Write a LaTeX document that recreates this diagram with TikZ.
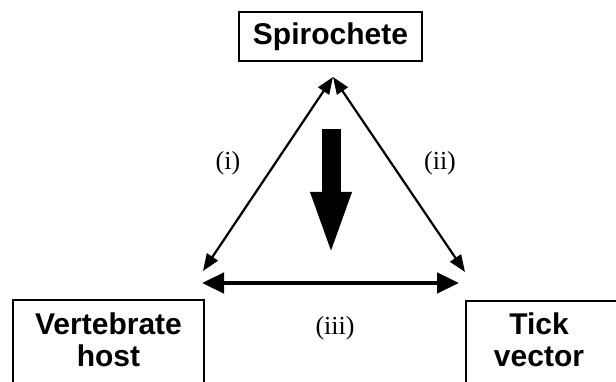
\documentclass[tikz,border=0pt]{standalone}
\usepackage{fontspec}
\setmainfont{Liberation Serif}
\newfontfamily\boxfont{Liberation Sans}
\usetikzlibrary{arrows.meta}

\tikzset{
  hostbox/.style={draw, line width=1.3pt, inner sep=0pt},
  boxtext/.style={font=\boxfont\bfseries\fontsize{30}{32}\selectfont, align=center, inner sep=0pt},
  roman/.style={font=\fontsize{26}{30}\selectfont, inner sep=0pt},
  link/.style={draw, line width=2.2pt, {Triangle[length=17pt,width=13pt]}-{Triangle[length=17pt,width=13pt]}},
  bond/.style={draw, line width=4.6pt, {Triangle[length=22pt,width=20pt]}-{Triangle[length=22pt,width=20pt]}},
  flow/.style={draw, line width=19pt, -{Triangle[length=65pt,width=36pt]}}
}

\begin{document}
\begin{tikzpicture}[x=1pt,y=1pt]
\clip (0,0) rectangle (616,382);

% the three partners
\node[hostbox, minimum width=183pt, minimum height=49pt, font=\boxfont\bfseries\fontsize{30}{32}\selectfont] (spiro) at (330.5,345.5) {Spirochete};
\node[hostbox, minimum width=191pt, minimum height=102pt] (vhost) at (108.5,31) {};
\node[boxtext, anchor=north] (vtext) at (108.5,69.5) {Vertebrate\\host};
\node[hostbox, minimum width=174pt, minimum height=102pt] (tick) at (553,30) {};
\node[boxtext, anchor=north] (ttext) at (539,69.5) {Tick\\vector};

% arrow ends
\coordinate (apex) at (333,305);
\coordinate (left) at (203,111);
\coordinate (right) at (465,110);
\coordinate (bl) at (202,99);
\coordinate (br) at (459,99);
\coordinate (drop) at (331,253);
\coordinate (droptip) at (331,125);

\path[link] (left) -- (apex);
\path[link] (right) -- (apex);
\path[bond] (bl) -- (br);
\path[flow] (drop) -- (droptip);

\node[roman] (i) at (228,219) {(i)};
\node[roman] (ii) at (440,219) {(ii)};
\node[roman] (iii) at (335,54) {(iii)};
\end{tikzpicture}
\end{document}
